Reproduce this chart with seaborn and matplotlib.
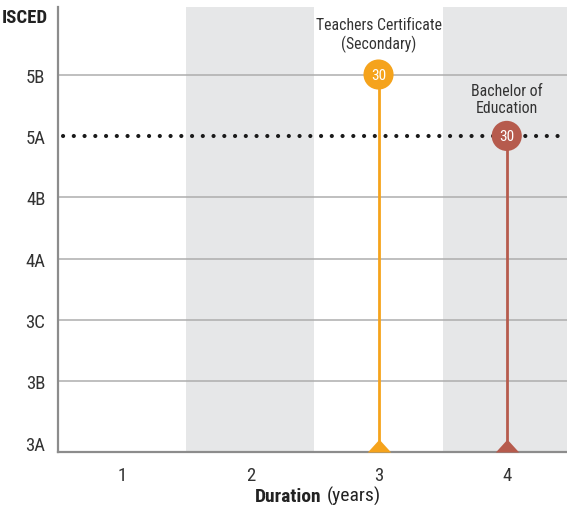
import matplotlib
matplotlib.use("Agg")
import matplotlib.pyplot as plt
import seaborn as sns
import pandas as pd

# ---- data ----
levels = ["3A", "3B", "3C", "4A", "4B", "5A", "5B"]
durations = [1, 2, 3, 4]
programs = ["Teachers Certificate\n(Secondary)", "Bachelor of\nEducation"]
prog_duration = [3, 4]
prog_level = ["5B", "5A"]
prog_value = [30, 30]
prog_colors = ["#F5A31C", "#B65B4D"]
shaded_durations = [2, 4]
reference_level = "5A"

sns.set_style("white")
plt.rcParams["font.family"] = ["Roboto Condensed", "DejaVu Sans"]

fig = plt.figure(figsize=(5.67, 5.06), dpi=100)
ax = fig.add_axes([58 / 567, 53 / 506, 1 - 58 / 567, (453 - 8) / 506])

lvl_idx = {l: i for i, l in enumerate(levels)}
df = pd.DataFrame({
    "program": programs,
    "duration": prog_duration,
    "level": [lvl_idx[l] for l in prog_level],
    "value": prog_value,
})

ymin, ymax = -0.15, 7.10
ax.set_xlim(0.5, 4.47)
ax.set_ylim(ymin, ymax)

# shaded bands
for d in shaded_durations:
    ax.axvspan(d - 0.5, d + 0.5, color="#E6E7E8", zorder=0, lw=0)

# gridlines
for i, l in enumerate(levels):
    if i == 0 or l == reference_level:
        continue
    ax.axhline(i, color="#ADADAD", lw=1.1, zorder=1)

# dotted reference line
ax.axhline(lvl_idx[reference_level], color="#1a1a1a", lw=3.0,
           linestyle=(1.37, (0.01, 2.57)), dash_capstyle="round", zorder=2)

# stems
for k, r in df.iterrows():
    c = prog_colors[k]
    ax.vlines(r["duration"], ymin, r["level"], color=c, lw=2.0, zorder=3)
    ax.plot([r["duration"]], [ymin], marker=[(-1, 0), (1, 0), (0, 1.1)],
            markersize=18.5, color=c, clip_on=False, zorder=6, mew=0)

sns.scatterplot(data=df, x="duration", y="level", hue="program",
                palette=prog_colors, s=470, edgecolor="none", legend=False,
                ax=ax, zorder=5)

for i, r in df.iterrows():
    ax.text(r["duration"], r["level"], str(r["value"]), color="white",
            ha="center", va="center", fontsize=11, zorder=7)
    ax.annotate(r["program"], (r["duration"], r["level"]),
                xytext=(0, 29 if i == 0 else 26.5), textcoords="offset points",
                ha="center", va="center", fontsize=11.3, color="#333333",
                linespacing=1.2, zorder=7)

ax.set_xticks(durations)
ax.set_xticklabels([str(d) for d in durations])
ax.set_yticks(range(len(levels)))
ax.set_yticklabels(levels)
ax.tick_params(axis="both", length=0, labelsize=13.5, colors="#333333")
ax.tick_params(axis="y", pad=9)
ax.tick_params(axis="x", pad=10)
ax.set_xlabel("")
ax.set_ylabel("")

for s in ["top", "right"]:
    ax.spines[s].set_visible(False)
for s in ["left", "bottom"]:
    ax.spines[s].set_color("#8C8C8C")
    ax.spines[s].set_linewidth(1.6)
    ax.spines[s].set_zorder(4)

fig.text(48 / 567, 1 - 23 / 506, "ISCED", ha="right", va="baseline",
         fontsize=13.5, fontweight="bold", color="#222222")
fig.text(322 / 567, 1 - 502 / 506, "Duration", ha="right", va="baseline",
         fontsize=14, fontweight="bold", color="#222222")
fig.text(327 / 567, 1 - 502 / 506, "(years)", ha="left", va="baseline",
         fontsize=14, color="#222222")

fig.savefig("out.png", dpi=100)
